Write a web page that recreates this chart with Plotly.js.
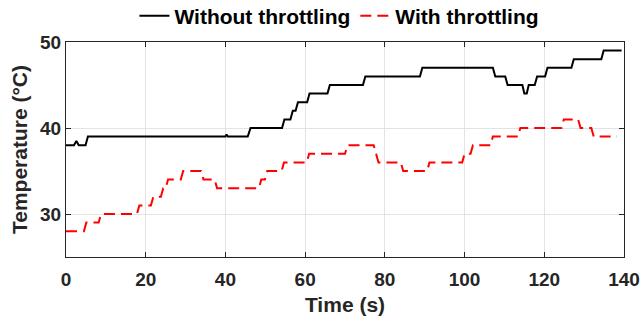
<!DOCTYPE html>
<html>
<head>
<meta charset="utf-8">
<script src="https://cdn.plot.ly/plotly-3.0.1.min.js"></script>
<style>
html,body{margin:0;padding:0;background:#fff;}
#chart{width:641px;height:319px;}
</style>
</head>
<body>
<div id="chart"></div>
<script>
// Without throttling (time s, temperature °C)
const timeNoThrottle = [0,2.0,2.6,3.2,4.9,5.5,40.0,40.3,40.6,45.6,46.3,54.2,54.8,56.3,56.9,57.6,58.2,60.5,61.1,65.6,66.2,74.5,75.1,88.8,89.4,107.1,107.7,110.2,110.8,114.5,115.0,115.6,116.1,117.6,118.2,120.2,120.8,126.8,127.4,134.3,134.9,139.4];
const tempNoThrottle = [38,38,38.5,38,38,39,39,39.25,39,39,40,40,41,41,42,42,43,43,44,44,45,45,46,46,47,47,46,46,45,45,44,44,45,45,46,46,47,47,48,48,49,49];

// With throttling
const timeThrottle = [0,4.5,5.1,8.2,8.8,17.8,18.4,21.3,21.9,23.8,24.4,25.0,25.6,28.8,29.4,33.9,34.5,37.3,37.9,48.4,49.0,49.9,50.5,54.1,54.7,60.4,61.0,70.0,70.6,77.2,77.8,78.4,84.0,84.6,90.6,91.2,99.4,100.0,101.5,102.1,106.5,107.1,113.4,114.0,124.3,124.9,128.5,129.1,131.8,132.4,138.2];
const tempThrottle = [28,28,29,29,30,30,31,31,32,32,33,33,34,34,35,35,34,34,33,33,34,34,35,35,36,36,37,37,38,38,37,36,36,35,35,36,36,37,37,38,38,39,39,40,40,41,41,40,40,39,39];

const seriesNames = ["Without throttling", "With throttling"];
const xTicks = [0,20,40,60,80,100,120,140];
const yTicks = [30,40,50];

const FONT = "Arial, 'Liberation Sans', Helvetica, sans-serif";
const AX = "#262626";

const traces = [
  {x: timeNoThrottle, y: tempNoThrottle, name: seriesNames[0], mode: "lines",
   line: {color: "#000000", width: 2}},
  {x: timeThrottle, y: tempThrottle, name: seriesNames[1], mode: "lines",
   line: {color: "#ff0000", width: 2, dash: "11px,6px"}}
];

const axisCommon = {
  showline: true, linecolor: AX, linewidth: 1, mirror: "ticks",
  ticks: "inside", ticklen: 5, tickcolor: AX, tickwidth: 1,
  showgrid: true, gridcolor: "#e3e3e3", gridwidth: 1, zeroline: false,
  automargin: false,
  tickfont: {family: FONT, size: 19, color: AX, weight: "bold"}
};

const layout = {
  width: 641, height: 319,
  margin: {l: 66, r: 17, t: 42, b: 62, autoexpand: false},
  paper_bgcolor: "#ffffff", plot_bgcolor: "#ffffff",
  showlegend: true,
  legend: {orientation: "h", x: 0.49, xanchor: "center", y: 1.12, yanchor: "middle",
    bgcolor: "rgba(0,0,0,0)", font: {family: FONT, size: 21, color: "#000", weight: "bold"},
    itemwidth: 30, tracegroupgap: 0},
  xaxis: Object.assign({}, axisCommon, {
    range: [0, 140], tickvals: xTicks, ticktext: xTicks.map(String),
    ticklabelstandoff: 5,
    title: {text: "Time (s)", font: {family: FONT, size: 21, color: AX, weight: "bold"}, standoff: 8}
  }),
  yaxis: Object.assign({}, axisCommon, {
    range: [25, 50], tickvals: yTicks, ticktext: yTicks.map(String),
    title: {text: "Temperature (°C)", font: {family: FONT, size: 21, color: AX, weight: "bold"}, standoff: 6}
  })
};

Plotly.newPlot("chart", traces, layout, {displayModeBar: false, staticPlot: true});
</script>
</body>
</html>
